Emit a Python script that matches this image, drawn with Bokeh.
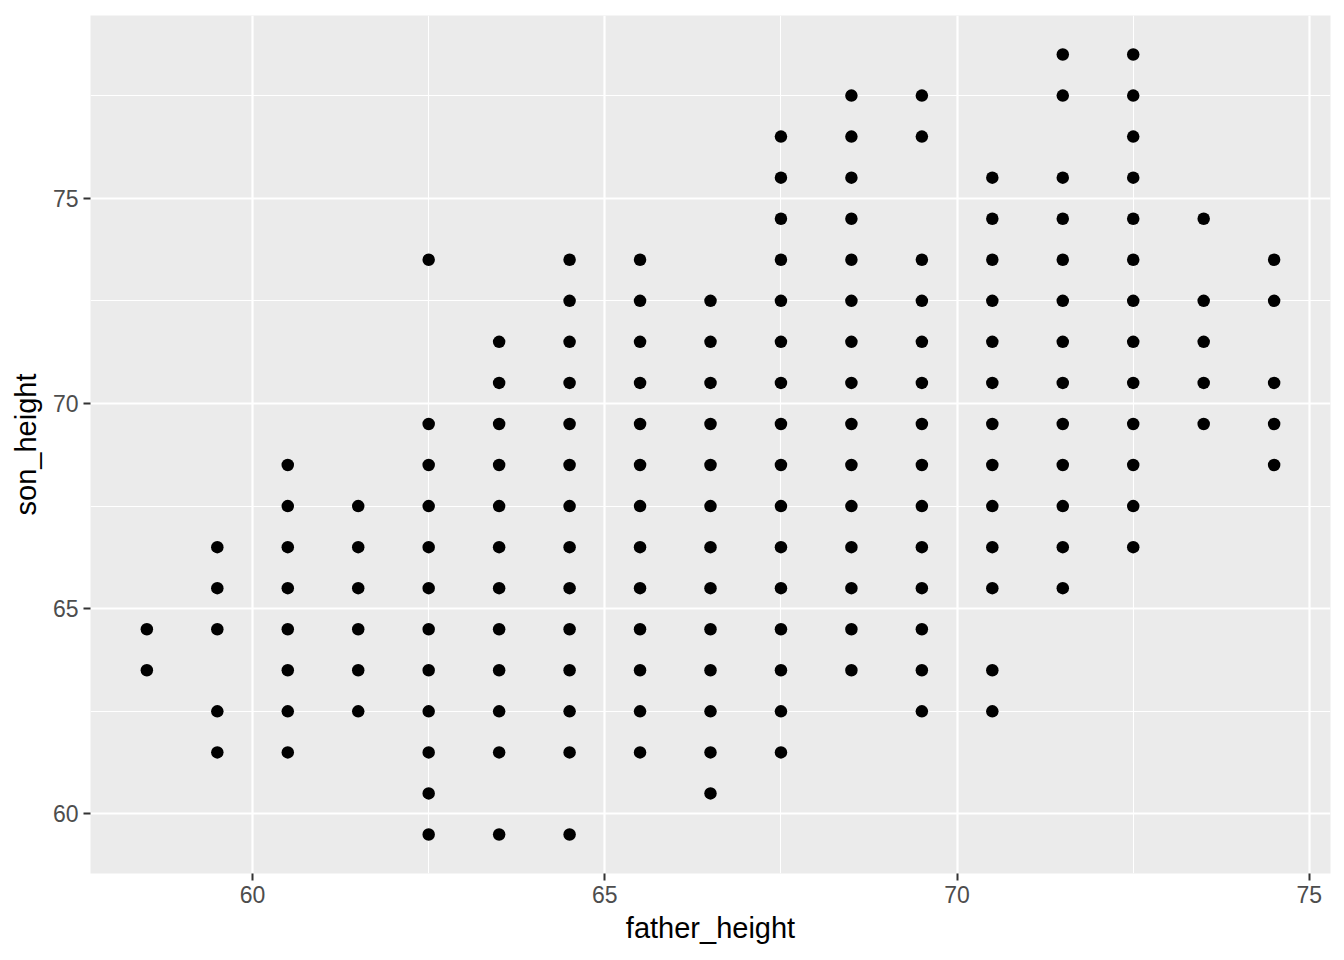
from bokeh.plotting import figure
from bokeh.models import FixedTicker, Range1d
from bokeh.embed import file_html
from bokeh.resources import INLINE

father_x = [58.5, 59.5, 60.5, 61.5, 62.5, 63.5, 64.5, 65.5, 66.5, 67.5, 68.5, 69.5, 70.5, 71.5, 72.5, 73.5, 74.5]
son_by_father = [
    [64.5, 63.5],
    [66.5, 65.5, 64.5, 62.5, 61.5],
    [68.5, 67.5, 66.5, 65.5, 64.5, 63.5, 62.5, 61.5],
    [67.5, 66.5, 65.5, 64.5, 63.5, 62.5],
    [73.5, 69.5, 68.5, 67.5, 66.5, 65.5, 64.5, 63.5, 62.5, 61.5, 60.5, 59.5],
    [71.5, 70.5, 69.5, 68.5, 67.5, 66.5, 65.5, 64.5, 63.5, 62.5, 61.5, 59.5],
    [73.5, 72.5, 71.5, 70.5, 69.5, 68.5, 67.5, 66.5, 65.5, 64.5, 63.5, 62.5, 61.5, 59.5],
    [73.5, 72.5, 71.5, 70.5, 69.5, 68.5, 67.5, 66.5, 65.5, 64.5, 63.5, 62.5, 61.5],
    [72.5, 71.5, 70.5, 69.5, 68.5, 67.5, 66.5, 65.5, 64.5, 63.5, 62.5, 61.5, 60.5],
    [76.5, 75.5, 74.5, 73.5, 72.5, 71.5, 70.5, 69.5, 68.5, 67.5, 66.5, 65.5, 64.5, 63.5, 62.5, 61.5],
    [77.5, 76.5, 75.5, 74.5, 73.5, 72.5, 71.5, 70.5, 69.5, 68.5, 67.5, 66.5, 65.5, 64.5, 63.5],
    [77.5, 76.5, 73.5, 72.5, 71.5, 70.5, 69.5, 68.5, 67.5, 66.5, 65.5, 64.5, 63.5, 62.5],
    [75.5, 74.5, 73.5, 72.5, 71.5, 70.5, 69.5, 68.5, 67.5, 66.5, 65.5, 63.5, 62.5],
    [78.5, 77.5, 75.5, 74.5, 73.5, 72.5, 71.5, 70.5, 69.5, 68.5, 67.5, 66.5, 65.5],
    [78.5, 77.5, 76.5, 75.5, 74.5, 73.5, 72.5, 71.5, 70.5, 69.5, 68.5, 67.5, 66.5],
    [74.5, 72.5, 71.5, 70.5, 69.5],
    [73.5, 72.5, 70.5, 69.5, 68.5],
]
x_ticks = [60, 65, 70, 75]
y_ticks = [60, 65, 70, 75]

xs, ys = [], []
for fx, sons in zip(father_x, son_by_father):
    for s in sons:
        xs.append(fx)
        ys.append(s)

xmin, xmax = min(xs), max(xs)
ymin, ymax = min(ys), max(ys)
xpad = (xmax - xmin) * 0.05
ypad = (ymax - ymin) * 0.05

p = figure(width=1338, height=952, output_backend="svg", toolbar_location=None,
           x_range=Range1d(xmin - xpad, xmax + xpad), y_range=Range1d(ymin - ypad, ymax + ypad),
           min_border_left=90, min_border_right=8, min_border_top=15, min_border_bottom=79)

p.background_fill_color = "#EBEBEB"
p.border_fill_color = "white"
p.outline_line_color = None

p.scatter(xs, ys, size=12.5, color="black", line_color=None)

p.xaxis.ticker = FixedTicker(ticks=x_ticks, minor_ticks=[62.5, 67.5, 72.5])
p.yaxis.ticker = FixedTicker(ticks=y_ticks, minor_ticks=[62.5, 67.5, 72.5, 77.5])

for g in (p.xgrid, p.ygrid):
    g.grid_line_color = "white"
    g.grid_line_width = 2.2
    g.minor_grid_line_color = "white"
    g.minor_grid_line_width = 1.1

for ax in (p.xaxis, p.yaxis):
    ax.axis_line_color = None
    ax.major_tick_line_color = "#333333"
    ax.major_tick_line_width = 2
    ax.major_tick_out = 7
    ax.major_tick_in = 0
    ax.minor_tick_line_color = None
    ax.major_label_text_font = "Liberation Sans"
    ax.major_label_text_font_size = "23px"
    ax.major_label_text_color = "#4D4D4D"
    ax.axis_label_text_font = "Liberation Sans"
    ax.axis_label_text_font_size = "29px"
    ax.axis_label_text_font_style = "normal"
    ax.axis_label_text_color = "black"
    ax.major_label_standoff = 5

p.xaxis.axis_label = "father_height"
p.yaxis.axis_label = "son_height"
p.xaxis.axis_label_standoff = 6
p.yaxis.axis_label_standoff = 8

open("out.html", "w").write(file_html(p, INLINE))
